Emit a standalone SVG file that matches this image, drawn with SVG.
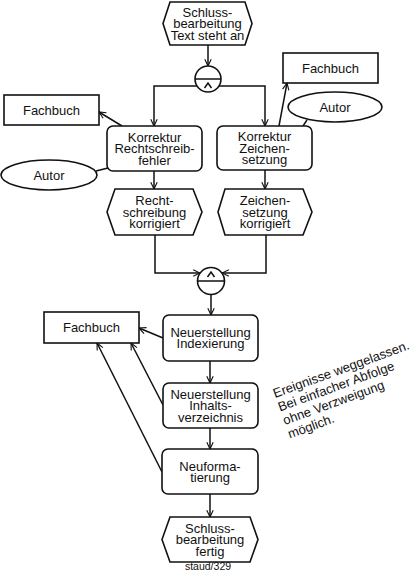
<svg xmlns="http://www.w3.org/2000/svg" width="414" height="572" viewBox="0 0 414 572">
<defs>
<marker id="arr" viewBox="0 0 10 10" refX="9.5" refY="5" markerWidth="8" markerHeight="8" markerUnits="userSpaceOnUse" orient="auto">
<path d="M1,1 L9.5,5 L1,9" fill="none" stroke="#111" stroke-width="1.4"/>
</marker>
</defs>
<style>
.s{fill:#fff;stroke:#111;stroke-width:1.6}
.t{font-family:"Liberation Sans",Arial,sans-serif;font-size:13px;fill:#111;text-anchor:middle}
.c{fill:none;stroke:#111;stroke-width:1.5}
.a{fill:none;stroke:#111;stroke-width:1.5;marker-end:url(#arr)}
</style>
<rect width="414" height="572" fill="#fff"/>

<g id="connectors">
<path class="a" d="M208,45 V66"/>
<path class="a" d="M197,86 H154 V126"/>
<path class="a" d="M219,86 H265 V126"/>
<path class="a" d="M122,126 L99,112"/>
<path class="a" d="M279,126 L287,83"/>
<path class="c" d="M96,171 L108,168"/>
<path class="c" d="M307,120 L303,126"/>
<path class="a" d="M154,171 V189"/>
<path class="a" d="M265,170 V189"/>
<path class="a" d="M155,235 V273 H200"/>
<path class="a" d="M266,235 V273 H222"/>
<path class="a" d="M211,295 V315"/>
<path class="a" d="M210,361 V383"/>
<path class="a" d="M210,428 V449"/>
<path class="a" d="M210,494 V517"/>
<path class="a" d="M163,338 L139,328"/>
<path class="a" d="M163,405 L131,343"/>
<path class="a" d="M162,472 L97,343"/>
</g>

<g id="ev-start">
<polygon class="s" points="163,23.5 170,2 245,2 252,23.5 245,45 170,45"/>
<text class="t"><tspan x="207.5" y="16.5">Schluss-</tspan><tspan x="207.5" y="28">bearbeitung</tspan><tspan x="207.5" y="39.5">Text steht an</tspan></text>
</g>

<g id="and1">
<circle class="s" cx="208" cy="79" r="13"/>
<path class="c" d="M195,79 H221"/>
<path class="c" d="M204.5,88 L208,83 L211.5,88"/>
</g>

<g id="fachbuch1">
<rect class="s" x="4" y="95" width="95" height="30"/>
<text class="t" x="51.5" y="114.5">Fachbuch</text>
</g>

<g id="fachbuch2">
<rect class="s" x="283" y="53" width="95" height="30"/>
<text class="t" x="330.5" y="72.5">Fachbuch</text>
</g>

<g id="autor1">
<ellipse class="s" cx="49" cy="175" rx="48" ry="15"/>
<text class="t" x="49" y="179.5">Autor</text>
</g>

<g id="autor2">
<ellipse class="s" cx="335" cy="107" rx="47" ry="15"/>
<text class="t" x="335" y="111.5">Autor</text>
</g>

<g id="fn-rechtschreib">
<rect class="s" x="107" y="126" width="95" height="45" rx="6"/>
<text class="t"><tspan x="154.5" y="141.5">Korrektur</tspan><tspan x="154.5" y="153">Rechtschreib-</tspan><tspan x="154.5" y="164.5">fehler</tspan></text>
</g>

<g id="fn-zeichen">
<rect class="s" x="217" y="126" width="95" height="44" rx="6"/>
<text class="t"><tspan x="264.5" y="141">Korrektur</tspan><tspan x="264.5" y="152.5">Zeichen-</tspan><tspan x="264.5" y="164">setzung</tspan></text>
</g>

<g id="ev-recht">
<polygon class="s" points="107,212 115,189 193,189 202,212 193,235 115,235"/>
<text class="t"><tspan x="154.5" y="205">Recht-</tspan><tspan x="154.5" y="216.5">schreibung</tspan><tspan x="154.5" y="228">korrigiert</tspan></text>
</g>

<g id="ev-zeichen">
<polygon class="s" points="218,212 225,189 303,189 312,212 303,235 225,235"/>
<text class="t"><tspan x="265" y="205">Zeichen-</tspan><tspan x="265" y="216.5">setzung</tspan><tspan x="265" y="228">korrigiert</tspan></text>
</g>

<g id="and2">
<circle class="s" cx="211" cy="281" r="13.5"/>
<path class="c" d="M197.5,281 H224.5"/>
<path class="c" d="M207.5,277 L211,272 L214.5,277"/>
</g>

<g id="fachbuch3">
<rect class="s" x="44" y="312" width="95" height="31"/>
<text class="t" x="91.5" y="332">Fachbuch</text>
</g>

<g id="fn-index">
<rect class="s" x="163" y="315" width="95" height="46" rx="6"/>
<text class="t"><tspan x="210.5" y="336.5">Neuerstellung</tspan><tspan x="210.5" y="348">Indexierung</tspan></text>
</g>

<g id="fn-inhalt">
<rect class="s" x="163" y="383" width="95" height="45" rx="6"/>
<text class="t"><tspan x="210.5" y="398.5">Neuerstellung</tspan><tspan x="210.5" y="410">Inhalts-</tspan><tspan x="210.5" y="421.5">verzeichnis</tspan></text>
</g>

<g id="fn-neuform">
<rect class="s" x="162" y="449" width="96" height="45" rx="6"/>
<text class="t"><tspan x="210" y="470.5">Neuforma-</tspan><tspan x="210" y="482">tierung</tspan></text>
</g>

<g id="ev-end">
<polygon class="s" points="162,539.5 170,517 250,517 258,539.5 250,562 170,562"/>
<text class="t"><tspan x="210" y="532.5">Schluss-</tspan><tspan x="210" y="544">bearbeitung</tspan><tspan x="210" y="555.5">fertig</tspan></text>
</g>

<g id="note">
<text class="t" style="text-anchor:start" transform="translate(275,398) rotate(-20)"><tspan x="0" y="0">Ereignisse weggelassen.</tspan><tspan x="0" y="14.4">Bei einfacher Abfolge</tspan><tspan x="0" y="28.8">ohne Verzweigung</tspan><tspan x="0" y="43.2">möglich.</tspan></text>
</g>

<text class="t" x="208" y="570" style="font-size:10.5px">staud/329</text>
</svg>
